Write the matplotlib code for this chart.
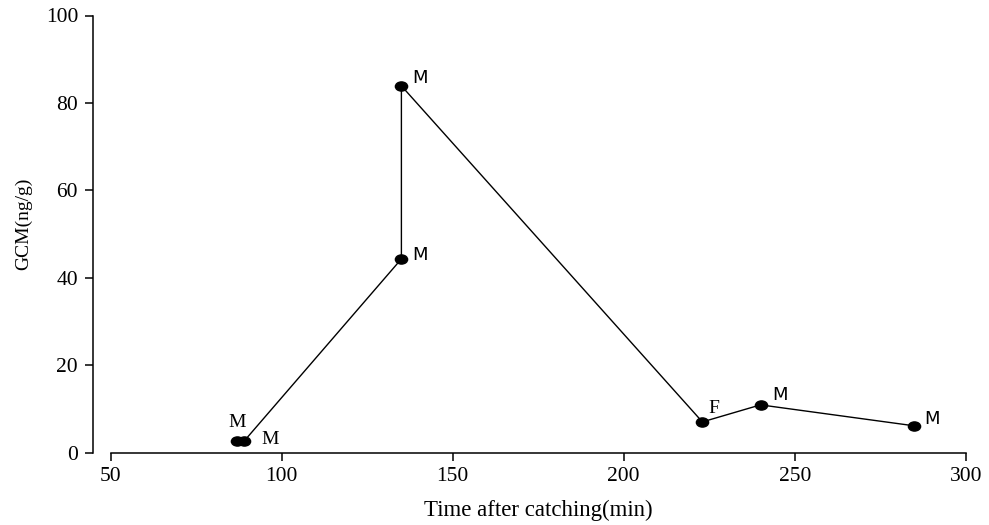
import numpy as np
import matplotlib.pyplot as plt
from matplotlib.path import Path
from matplotlib.transforms import Affine2D

# Data
time_min = [87, 89, 135, 135, 223, 240, 285]
gcm = [2.6, 2.6, 44.3, 83.9, 7.0, 10.9, 6.1]
sex = ['M', 'M', 'M', 'M', 'F', 'M', 'M']

xticks = [50, 100, 150, 200, 250, 300]
yticks = [0, 20, 40, 60, 80, 100]

# label offsets (pixels, to baseline-left) and font per point
offsets = [(-9, 14), (17, -3), (11, -1), (11, 3), (6, 9), (12, 5), (10, 2)]
fonts = ['Liberation Serif', 'Liberation Serif', 'DejaVu Sans', 'DejaVu Sans',
         'Liberation Serif', 'DejaVu Sans', 'DejaVu Sans']
sizes = [14, 14, 13, 13, 14, 13, 13]

plt.rcParams['font.family'] = 'Liberation Serif'

# flattened dot, like the original
ellipse = Affine2D().scale(1.0, 0.75).transform_path(Path.unit_circle())

fig = plt.figure(figsize=(9.89, 5.25), dpi=100)
ax = fig.add_axes([110.7 / 989, 72.5 / 525, 855 / 989, 437 / 525])

ax.plot(time_min, gcm, color='black', lw=1.0, marker=ellipse, ms=8.8,
        markerfacecolor='black', markeredgecolor='black')

for x, y, s, off, f, fs in zip(time_min, gcm, sex, offsets, fonts, sizes):
    ax.annotate(s, (x, y), xytext=off, textcoords='offset pixels',
                fontsize=fs, family=f, ha='left', va='baseline')

ax.set_xlim(50, 300)
ax.set_ylim(0, 100)
ax.set_xticks(xticks)
ax.set_yticks(yticks)
ax.spines['top'].set_visible(False)
ax.spines['right'].set_visible(False)
ax.spines['left'].set_position(('outward', 13))
for sp in ['left', 'bottom']:
    ax.spines[sp].set_linewidth(1.1)
ax.tick_params(direction='out', length=5.5, width=1.1, labelsize=15.5, pad=5)
ax.set_xlabel('Time after catching(min)', fontsize=16.5)
ax.set_ylabel('GCM(ng/g)', fontsize=14)
ax.xaxis.set_label_coords(0.5, -0.108)
ax.yaxis.set_label_coords(-0.092, 0.523)

plt.savefig('out.png', dpi=100)
